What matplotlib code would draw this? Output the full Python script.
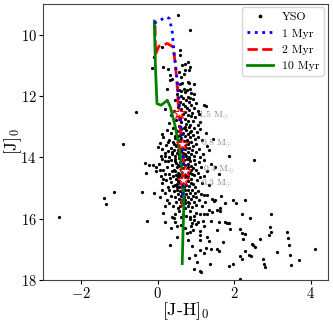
import numpy as np
import matplotlib
matplotlib.use("Agg")
import matplotlib.pyplot as plt

plt.rcParams['font.family'] = 'serif'
plt.rcParams['font.serif'] = ['cmr10']
plt.rcParams['mathtext.fontset'] = 'cm'
plt.rcParams['axes.formatter.use_mathtext'] = True

# YSO photometry, ([J-H]0, [J]0), grouped by magnitude band
yso_bright = [
    (0.52, 9.35), (0.85, 9.84), (0.11, 10.4), (-0.1, 10.73), (-0.14, 11.1),
    (0.59, 10.51), (0.58, 10.67), (0.14, 11.05), (0.28, 11.12), (0.64, 11.0),
    (0.7, 10.95), (0.72, 11.14), (0.83, 11.16), (0.55, 11.22), (0.61, 11.38),
    (0.68, 11.27), (0.33, 11.33), (0.31, 11.49), (0.37, 11.45), (0.57, 11.6),
    (0.64, 11.58), (0.78, 11.54), (0.83, 11.58), (0.94, 11.6), (0.23, 11.76),
    (0.51, 11.7), (0.55, 11.79), (0.68, 11.76), (0.77, 11.79), (0.85, 11.76),
    (0.8, 10.9), (0.85, 11.05),
]
yso_upper = [
    (0.62, 11.85), (0.72, 11.88), (0.88, 11.9), (0.95, 11.95), (0.5, 11.92),
    (0.6, 12.0), (0.78, 12.02), (0.85, 12.05), (0.67, 12.08), (0.92, 12.1),
    (0.45, 12.12), (0.74, 12.14), (0.58, 12.18), (0.82, 12.2), (1.0, 12.22),
    (0.66, 12.25), (0.88, 12.28), (0.7, 12.32), (0.52, 12.35), (0.77, 12.38),
    (0.95, 12.4), (0.6, 12.42), (0.83, 12.45), (1.05, 12.48), (0.42, 12.5),
    (0.72, 12.52), (0.9, 12.55), (0.65, 12.6), (0.78, 12.62), (1.2, 12.28),
    (1.25, 12.32), (0.35, 12.62), (0.86, 12.66), (0.98, 12.7), (0.58, 12.72),
    (0.7, 12.75), (0.48, 12.78), (0.8, 12.8), (0.92, 12.82), (1.1, 12.85),
    (0.62, 12.86), (0.74, 12.9), (0.3, 12.88), (1.05, 12.95), (0.85, 12.95),
    (0.2, 12.42), (-0.56, 12.53), (1.07, 12.6),
]
yso_mid = [
    (0.55, 12.98), (0.7, 13.0), (0.82, 13.02), (0.95, 13.05), (0.4, 13.05),
    (0.62, 13.08), (1.1, 13.08), (0.25, 13.1), (0.75, 13.12), (0.88, 13.14),
    (0.5, 13.15), (1.02, 13.18), (0.66, 13.2), (0.35, 13.22), (0.8, 13.23),
    (1.25, 13.2), (0.58, 13.26), (0.92, 13.28), (0.72, 13.3), (0.45, 13.32),
    (1.05, 13.33), (0.85, 13.35), (0.15, 13.35), (0.62, 13.38), (0.98, 13.4),
    (0.3, 13.42), (0.76, 13.42), (0.52, 13.45), (1.15, 13.45), (0.68, 13.48),
    (0.88, 13.5), (0.4, 13.5), (0.05, 13.52), (0.58, 13.55), (0.8, 13.56),
    (1.0, 13.58), (0.22, 13.6), (0.72, 13.6), (0.48, 13.62), (0.92, 13.64),
    (1.3, 13.62), (0.62, 13.66), (0.35, 13.68), (0.82, 13.7), (0.55, 13.7),
    (1.08, 13.72), (0.12, 13.72), (0.7, 13.74), (0.42, 13.76), (0.9, 13.77),
    (0.6, 13.8), (0.28, 13.8), (0.78, 13.82), (1.0, 13.83), (0.5, 13.85),
    (0.18, 13.86), (0.66, 13.87), (0.86, 13.88), (0.38, 13.9), (1.18, 13.9),
    (0.56, 13.92), (0.74, 13.94), (0.95, 13.95), (0.08, 13.95), (0.45, 13.97),
    (0.62, 13.98), (0.82, 13.99), (0.3, 14.0), (1.1, 14.0), (0.68, 13.58),
    (0.46, 13.38), (0.58, 13.12), (0.78, 13.5), (0.52, 13.75), (0.6, 13.42),
    (0.7, 13.9), (0.42, 13.58), (0.64, 13.25), (0.84, 13.18), (0.5, 13.6),
    (0.36, 13.84), (0.26, 13.5), (0.74, 13.7), (0.54, 13.32), (0.68, 13.05),
    (0.2, 13.95), (1.85, 13.96), (1.45, 13.4), (1.35, 13.75), (-0.9, 13.57),
    (0.0, 13.65), (0.1, 13.25), (2.52, 14.07),
]
yso_lower = [
    (-0.32, 14.18), (-0.22, 14.24), (-0.12, 14.24), (-0.05, 14.3), (-0.04, 14.45),
    (-0.3, 14.5), (0.02, 14.2), (0.1, 14.05), (0.15, 14.4), (0.08, 14.6),
    (0.2, 14.12), (0.25, 14.3), (0.3, 14.55), (0.22, 14.75), (0.12, 14.85),
    (0.35, 14.08), (0.38, 14.25), (0.42, 14.4), (0.4, 14.62), (0.35, 14.8),
    (0.28, 14.95), (0.45, 14.05), (0.48, 14.18), (0.5, 14.32), (0.52, 14.5),
    (0.47, 14.7), (0.5, 14.88), (0.55, 14.02), (0.57, 14.15), (0.58, 14.28),
    (0.6, 14.42), (0.56, 14.58), (0.58, 14.72), (0.55, 14.95), (0.62, 14.08),
    (0.64, 14.22), (0.65, 14.35), (0.62, 14.55), (0.64, 14.68), (0.63, 14.85),
    (0.68, 14.1), (0.7, 14.25), (0.72, 14.38), (0.7, 14.52), (0.72, 14.65),
    (0.7, 14.82), (0.68, 14.98), (0.76, 14.05), (0.78, 14.2), (0.8, 14.32),
    (0.76, 14.48), (0.8, 14.6), (0.78, 14.78), (0.82, 14.92), (0.85, 14.12),
    (0.88, 14.28), (0.86, 14.42), (0.9, 14.55), (0.88, 14.7), (0.92, 14.88),
    (0.95, 14.08), (0.98, 14.22), (1.0, 14.4), (0.96, 14.58), (1.02, 14.75),
    (0.98, 14.95), (1.08, 14.15), (1.12, 14.3), (1.05, 14.5), (1.1, 14.65),
    (1.15, 14.85), (1.22, 14.1), (1.28, 14.45), (1.2, 14.6), (1.35, 14.9),
    (1.4, 14.2), (0.44, 14.12), (0.53, 14.26), (0.61, 14.3), (0.46, 14.44),
    (0.66, 14.46), (0.54, 14.64), (0.6, 14.62), (0.74, 14.58), (0.49, 14.56),
    (0.58, 14.84), (0.66, 14.76), (0.44, 14.9), (0.52, 14.78), (0.74, 14.9),
    (0.36, 14.45), (0.32, 14.68), (0.84, 14.52), (0.92, 14.36), (0.82, 14.04),
    (0.6, 14.06), (0.4, 14.92), (0.86, 14.82), (0.5, 14.96), (0.64, 14.96),
    (0.06, 14.4), (0.18, 14.55), (0.26, 14.12), (0.14, 14.7), (1.5, 14.3),
    (1.6, 14.55),
]
yso_faint = [
    (0.1, 15.05), (0.2, 15.15), (0.3, 15.05), (0.35, 15.25), (0.42, 15.1),
    (0.45, 15.3), (0.5, 15.05), (0.52, 15.18), (0.55, 15.35), (0.58, 15.1),
    (0.6, 15.25), (0.62, 15.45), (0.66, 15.15), (0.68, 15.3), (0.7, 15.05),
    (0.72, 15.4), (0.75, 15.2), (0.78, 15.05), (0.8, 15.3), (0.82, 15.5),
    (0.85, 15.15), (0.88, 15.35), (0.9, 15.05), (0.92, 15.25), (0.95, 15.45),
    (0.98, 15.15), (1.0, 15.3), (1.05, 15.1), (1.08, 15.4), (1.12, 15.2),
    (1.22, 15.22), (1.29, 15.22), (1.43, 15.37), (1.47, 15.43), (1.5, 15.4),
    (1.65, 15.27), (1.96, 15.4), (2.04, 15.48), (2.27, 15.4), (1.77, 15.49),
    (1.23, 15.47), (1.11, 15.85), (1.2, 15.84), (1.3, 15.86), (1.43, 15.78),
    (1.55, 15.72), (1.64, 15.76), (1.64, 15.65), (1.35, 15.7), (2.2, 15.86),
    (2.42, 15.96), (2.96, 15.86), (0.3, 15.5), (0.4, 15.6), (0.48, 15.45),
    (0.58, 15.58), (0.55, 15.75), (0.7, 15.65), (0.78, 15.6), (0.85, 15.75),
    (0.9, 15.62), (1.0, 15.55), (1.0, 15.8), (0.95, 15.92), (0.75, 15.9),
    (0.65, 15.85), (0.45, 15.85), (0.38, 15.95), (0.2, 15.6), (0.05, 15.3),
    (-0.1, 15.15), (0.15, 15.8), (0.25, 15.4), (0.85, 15.95), (1.15, 15.6),
    (-0.41, 15.12), (-1.15, 15.13), (-1.41, 15.32), (-1.36, 15.53), (-2.58, 15.95),
    (0.6, 15.95), (0.52, 15.65), (0.8, 15.45), (0.7, 15.5),
]
yso_tail = [
    (-0.27, 16.08), (0.2, 16.1), (0.42, 15.98), (0.5, 16.23), (0.45, 16.1),
    (0.85, 16.02), (0.9, 16.15), (0.95, 16.05), (1.0, 16.18), (0.88, 16.25),
    (1.05, 16.1), (0.77, 16.48), (0.85, 16.43), (1.1, 16.54), (1.1, 16.7),
    (1.18, 16.07), (1.4, 16.08), (1.59, 16.1), (1.75, 16.12), (1.8, 16.15),
    (1.85, 16.13), (1.11, 16.4), (1.56, 16.35), (1.9, 16.34), (2.16, 16.34),
    (2.2, 16.48), (2.27, 16.5), (2.23, 16.65), (2.68, 16.65), (2.94, 16.28),
    (2.96, 16.43), (2.9, 16.52), (1.3, 16.6), (1.33, 16.73), (1.7, 16.75),
    (2.46, 16.83), (2.55, 16.92), (2.5, 16.86), (3.37, 16.43), (3.4, 16.62),
    (3.42, 16.84), (3.11, 17.08), (4.11, 16.97), (3.46, 17.19), (3.68, 17.35),
    (3.48, 17.51), (1.11, 17.03), (1.2, 17.11), (1.39, 17.0), (1.55, 17.0),
    (1.59, 17.05), (2.29, 17.06), (2.39, 17.19), (2.43, 17.22), (2.16, 17.21),
    (2.2, 17.32), (2.75, 17.3), (2.78, 17.48), (2.81, 17.57), (1.87, 17.55),
    (1.96, 17.46), (1.37, 17.49), (1.11, 17.71), (2.14, 17.97), (0.33, 16.84),
    (0.98, 17.17), (0.83, 17.27), (1.03, 17.4), (0.96, 17.65), (1.14, 17.73),
    (0.72, 16.3), (0.6, 16.2), (0.35, 16.3), (0.92, 16.35), (1.2, 16.25),
    (0.8, 16.7), (0.9, 16.9), (1.25, 16.95), (0.5, 16.6),
]

# isochrones ([J-H]0, [J]0)
iso_1myr = [(-0.09, 9.63), (0.05, 9.53), (0.25, 9.43), (0.31, 9.49), (0.38, 9.92),
            (0.42, 10.51), (0.49, 11.27), (0.55, 12.03), (0.59, 12.68),
            (0.64, 13.55), (0.68, 14.09), (0.66, 14.75), (0.64, 15.4)]
iso_2myr = [(-0.07, 9.7), (-0.06, 10.65), (0.03, 10.38), (0.25, 10.29), (0.4, 10.4),
            (0.46, 10.95), (0.51, 11.7), (0.55, 12.57), (0.62, 13.5),
            (0.7, 14.44), (0.66, 14.75), (0.64, 15.6)]
iso_10myr = [(-0.09, 9.56), (-0.06, 11.05), (-0.02, 12.25), (0.09, 12.3), (0.25, 12.14),
             (0.33, 12.36), (0.46, 13.01), (0.59, 13.88), (0.66, 14.75),
             (0.68, 15.62), (0.66, 16.48), (0.64, 17.46)]

# mass markers on the 2 Myr track
mass_x = [0.55, 0.64, 0.70, 0.66]
mass_y = [12.57, 13.55, 14.44, 14.75]
mass_labels = ['1.5', '0.8', '0.4', '0.3']
label_x = [1.05, 1.12, 1.18, 1.13]
label_y = [12.62, 13.55, 14.42, 14.88]

yso = np.array(yso_bright + yso_upper + yso_mid + yso_lower + yso_faint + yso_tail)

fig = plt.figure(figsize=(3.33, 3.25), dpi=100)
ax = fig.add_axes([0.129, 0.138, 0.856, 0.850])

ax.plot(yso[:, 0], yso[:, 1], 'k.', ms=2.6, ls='none', label='YSO', zorder=2)

a = np.array(iso_1myr)
ax.plot(a[:, 0], a[:, 1], color='blue', ls=':', lw=2, label='1 Myr', zorder=4)
a = np.array(iso_2myr)
ax.plot(a[:, 0], a[:, 1], color='red', ls='--', lw=2, label='2 Myr', zorder=3)
a = np.array(iso_10myr)
ax.plot(a[:, 0], a[:, 1], color='green', ls='-', lw=2, label='10 Myr', zorder=3)

ax.plot(mass_x, mass_y, ls='none', marker='*', ms=9, mfc='white', mec='red',
        mew=0.8, zorder=5)
for lx, ly, m in zip(label_x, label_y, mass_labels):
    ax.text(lx, ly, m + r' M$_{\odot}$', fontsize=7, color='#8a8a8a',
            va='center', ha='left')

ax.set_xlim(-3.0, 4.45)
ax.set_ylim(18, 9.0)
ax.set_xticks([-2, 0, 2, 4])
ax.set_yticks([10, 12, 14, 16, 18])
ax.tick_params(labelsize=10.5, pad=1.5, length=3)
ax.set_xlabel(r'[J-H]$_0$', fontsize=13, labelpad=-1)
ax.set_ylabel(r'[J]$_0$', fontsize=12.5)
ax.yaxis.set_label_coords(-0.068, 0.5)
for s in ax.spines.values():
    s.set_color('#444444')

ax.legend(loc='upper right', fontsize=8.5, handlelength=2.2, markerscale=1.3,
          borderaxespad=0.3, labelspacing=0.5)

fig.savefig('out.png', dpi=100)
